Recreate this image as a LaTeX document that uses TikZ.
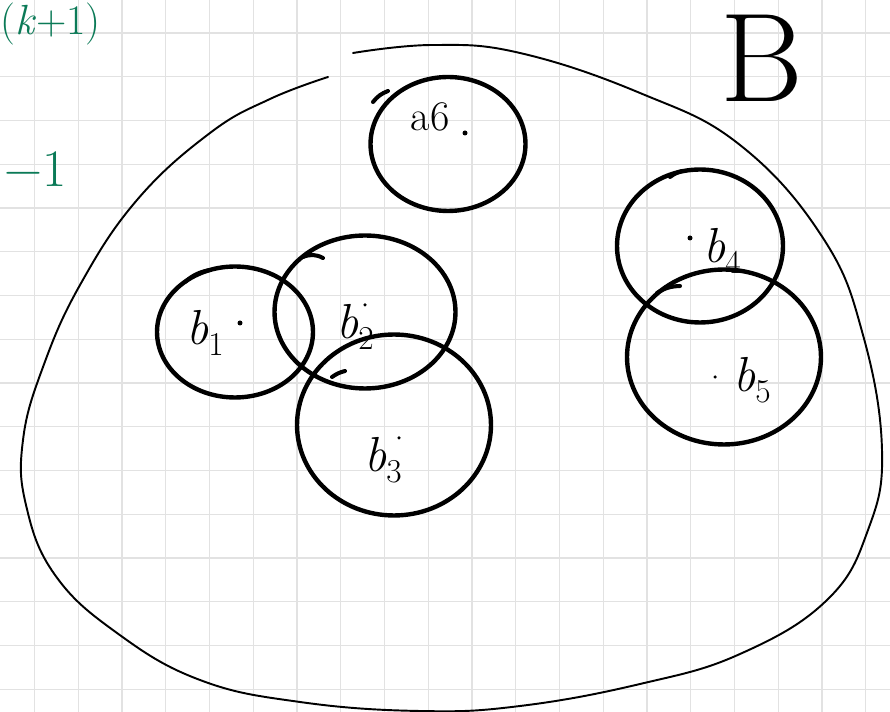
\documentclass[tikz,border=0pt]{standalone}
\usepackage{fontspec}
\usepackage{xcolor}
\definecolor{inkgreen}{HTML}{0b7a57}
\definecolor{paperline}{HTML}{e2e2e2}
\usepackage{tikz}
\usetikzlibrary{shapes.geometric, positioning}
\newcommand{\bsub}[1]{b\raisebox{-0.22em}{\upshape\fontsize{19}{20}\selectfont #1}}

\begin{document}
\begin{tikzpicture}[x=0.02cm, y=-0.02cm,
  gridline/.style={draw=paperline, line width=0.8pt},
  outline/.style={draw=black, line width=1.1pt, line cap=round},
  ball/.style={ellipse, draw=black, line width=2.5pt, inner sep=0pt},
  balltail/.style={draw=black, line width=2.3pt, line cap=round},
  ballname/.style={font=\fontsize{28}{32}\selectfont\itshape, inner sep=0pt},
  pt/.style={circle, fill=black, inner sep=0pt, minimum size=0.1cm},
  greennote/.style={text=inkgreen, inner sep=0pt, font=\fontsize{24}{28}\selectfont}
]
\useasboundingbox (0,0) rectangle (890,712);
\fill[white] (0,0) rectangle (890,712);

% squared paper
\foreach \gx in {0,...,19}
  \draw[gridline] ({34.5+43.75*\gx},0) -- ({34.5+43.75*\gx},712);
\foreach \gy in {0,...,15}
  \draw[gridline] (0,{33+43.75*\gy}) -- (890,{33+43.75*\gy});

% margin notes
\node[greennote, anchor=base west] (shift) at (0,35) {(\textit{k}+1)};
\node[greennote, anchor=base west, font=\fontsize{30}{34}\selectfont] (minusone) at (4,187) {−1};
\node[inner sep=0pt, font=\fontsize{72}{76}\selectfont] (setB) at (762,58) {B};

% the big set
\draw[outline] plot[smooth, tension=0.7] coordinates {
  (353,53) (433,45) (520,53) (640,93) (740,145) (823,238) (863,335)
  (882,450) (868,530) (827,600) (740,654) (640,684) (520,706) (420,711)
  (300,702) (200,680) (117,633) (55,575) (26,505) (23,440) (43,367)
  (80,285) (137,200) (210,133) (270,99) (328,77)};

% balls
\node[ball, minimum width=3.1cm, minimum height=2.68cm] (a6) at (448,144) {};
\node[ball, minimum width=3.12cm, minimum height=2.62cm] (b1) at (235,332) {};
\node[ball, minimum width=3.62cm, minimum height=3.06cm] (b2) at (365,312) {};
\node[ball, minimum width=3.88cm, minimum height=3.62cm] (b3) at (394,425) {};
\node[ball, minimum width=3.32cm, minimum height=3.06cm] (b4) at (700,246) {};
\node[ball, minimum width=3.88cm, minimum height=3.5cm] (b5) at (724,357) {};

% pen starts
\draw[balltail] (373,102) to[bend left=15] (388,91);
\draw[balltail] (185,282) to[bend left=15] (210,270);
\draw[balltail] (303,257) to[bend left=25] (323,258);
\draw[balltail] (332,377) to[bend left=10] (345,371);
\draw[balltail] (670,177) to[bend left=10] (682,171);
\draw[balltail] (657,293) to[bend left=15] (680,286);

% names and centres
\node[ballname, font=\fontsize{24}{28}\selectfont] (a6name) at (430,117) {a6};
\node[pt] (a6c) at (465,133) {};
\node[ballname] (b1name) at (205,333) {\bsub{1}};
\node[pt] (b1c) at (240,323) {};
\node[ballname] (b2name) at (355,327) {\bsub{2}};
\node[pt, minimum size=0.07cm] (b2c) at (365,305) {};
\node[ballname] (b3name) at (383,460) {\bsub{3}};
\node[pt, minimum size=0.07cm] (b3c) at (399,438) {};
\node[ballname] (b4name) at (722,251) {\bsub{4}};
\node[pt] (b4c) at (690,238) {};
\node[ballname] (b5name) at (752,380) {\bsub{5}};
\node[pt, minimum size=0.07cm] (b5c) at (715,377) {};
\end{tikzpicture}
\end{document}
